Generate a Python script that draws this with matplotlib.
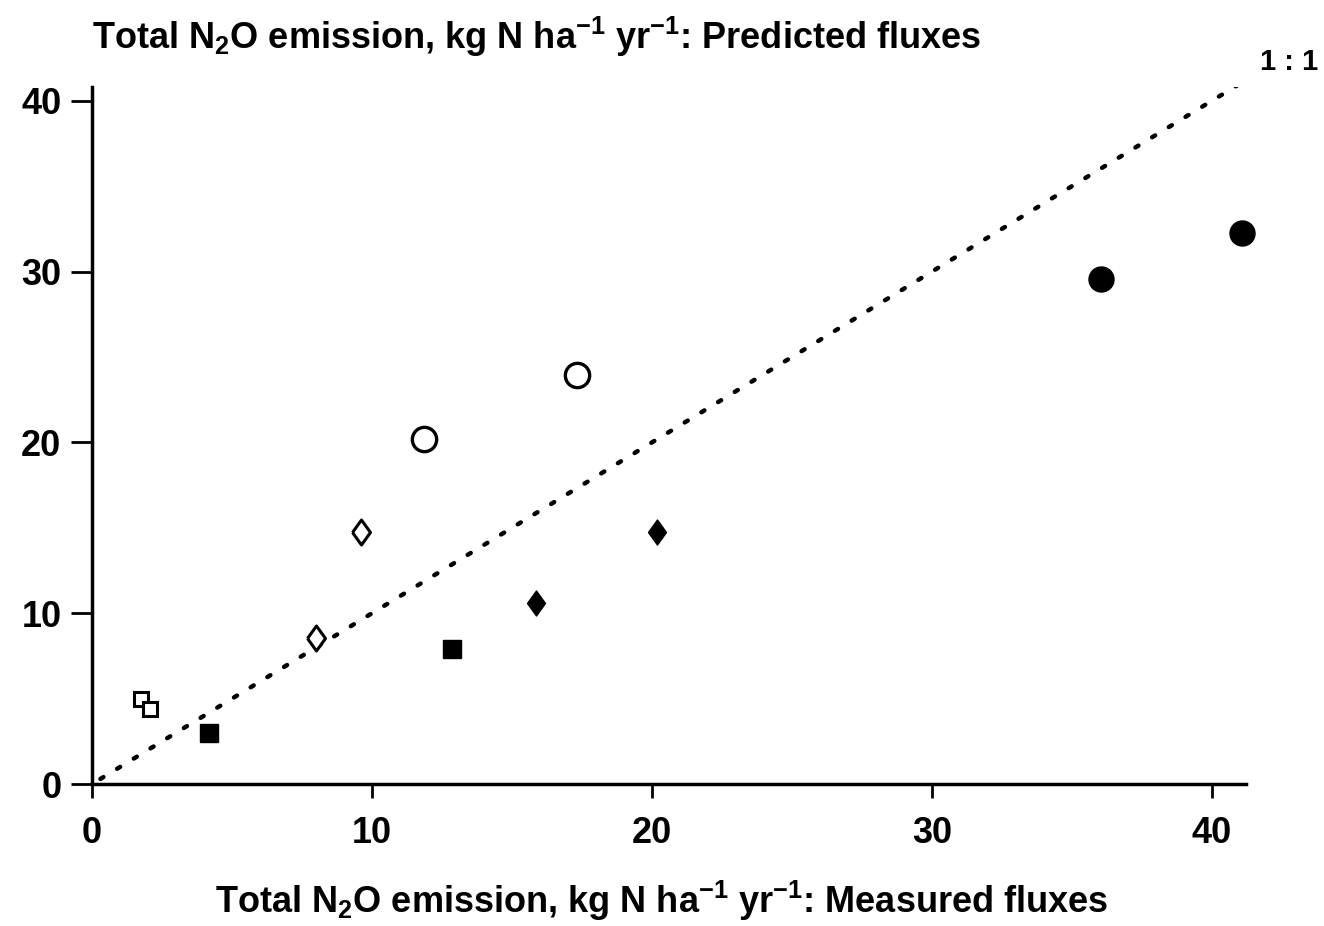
import matplotlib
matplotlib.use("Agg")
from matplotlib import pyplot as plt
import numpy as np

# Measured vs predicted N2O fluxes
open_sq_x = [1.75, 2.07]
open_sq_y = [4.98, 4.39]
fill_sq_x = [4.18, 12.86]
fill_sq_y = [2.99, 7.90]
open_dm_x = [8.0, 9.6]
open_dm_y = [8.55, 14.75]
fill_dm_x = [15.86, 20.18]
fill_dm_y = [10.6, 14.75]
open_ci_x = [11.86, 17.32]
open_ci_y = [20.2, 23.95]
fill_ci_x = [36.04, 41.07]
fill_ci_y = [29.57, 32.26]

one_to_one = [0.3, 41.1]
ticks = [0, 10, 20, 30, 40]

plt.rcParams['font.family'] = ['Liberation Sans', 'DejaVu Sans']
plt.rcParams['font.weight'] = 'bold'
plt.rcParams['mathtext.fontset'] = 'custom'
plt.rcParams['mathtext.rm'] = 'Liberation Sans:bold'
plt.rcParams['mathtext.it'] = 'Liberation Sans:bold'
plt.rcParams['mathtext.bf'] = 'Liberation Sans:bold'

fig = plt.figure(figsize=(13.24, 9.26), dpi=100)
ax = fig.add_axes([0.0695, 0.1533, 0.8713, 0.7527])

diamond = [(-0.72, 0), (0, 1), (0.72, 0), (0, -1), (-0.72, 0)]

ax.plot(one_to_one, one_to_one, color='black', lw=3.2, ls=(0, (0.8, 3.6)),
        dash_capstyle='round', zorder=1)

ax.plot(open_sq_x, open_sq_y, 's', ms=10.5, mfc='white', mec='black', mew=2.2, ls='none', zorder=3)
ax.plot(fill_sq_x, fill_sq_y, 's', ms=12.5, mfc='black', mec='black', ls='none', zorder=3)
ax.plot(open_dm_x, open_dm_y, marker=diamond, ms=18, mfc='white', mec='black', mew=2.2, ls='none', zorder=3)
ax.plot(fill_dm_x, fill_dm_y, marker=diamond, ms=18, mfc='black', mec='black', ls='none', zorder=3)
ax.plot(open_ci_x, open_ci_y, 'o', ms=17.5, mfc='white', mec='black', mew=2.4, ls='none', zorder=3)
ax.plot(fill_ci_x, fill_ci_y, 'o', ms=18, mfc='black', mec='black', ls='none', zorder=3,
        clip_on=False)

ax.set_xlim(0, 41.2)
ax.set_ylim(0, 40.8)
ax.set_xticks(ticks)
ax.set_yticks(ticks)
ax.spines['top'].set_visible(False)
ax.spines['right'].set_visible(False)
ax.spines['left'].set_linewidth(2.5)
ax.spines['bottom'].set_linewidth(2.5)
ax.tick_params(axis='x', direction='out', length=10, width=2, pad=13, labelsize=26)
ax.tick_params(axis='y', direction='out', length=15, width=2, pad=7, labelsize=26)

label_tail = r'N$_2$O emission, kg N ha$^{-1}$ yr$^{-1}$: '
fig.text(0.0695, 0.96, 'Total ' + label_tail + 'Predicted fluxes',
         fontsize=26, ha='left', va='center')
fig.text(0.50, 0.027, 'Total ' + label_tail + 'Measured fluxes',
         fontsize=26, ha='center', va='center')
fig.text(0.9955, 0.933, '1 : 1', fontsize=21, fontweight='bold', ha='right', va='center')

fig.savefig('out.png', dpi=100)
